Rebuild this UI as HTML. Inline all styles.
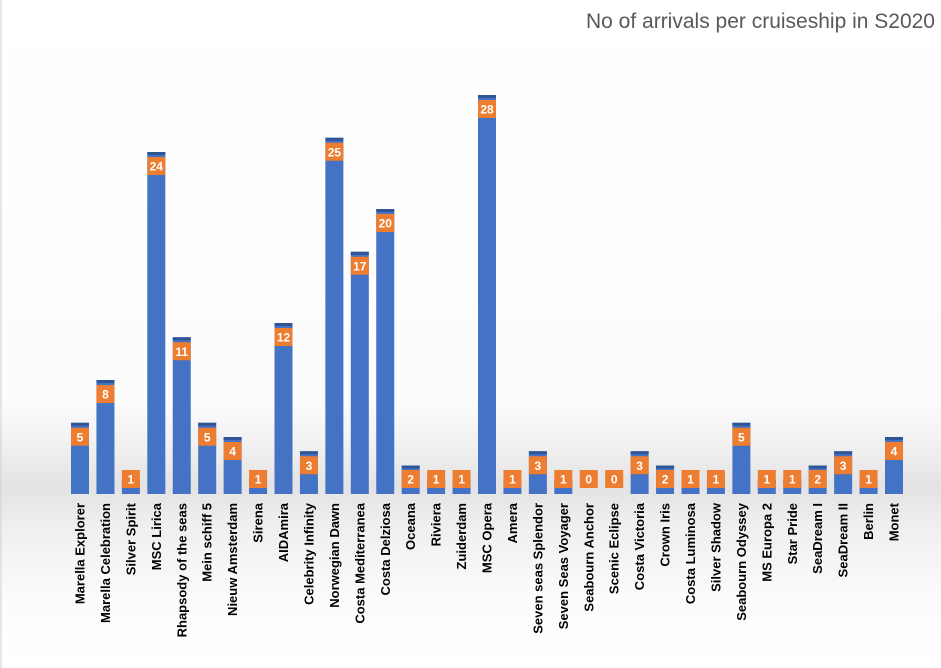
<!DOCTYPE html>
<html><head><meta charset="utf-8"><style>
html,body{margin:0;padding:0;background:#fff;}
svg{display:block;font-family:"Liberation Sans",Arial,sans-serif;}
.b{fill:#4472c4}.t{fill:#2f5597}.o{fill:#ed7d31}
.v{font-size:12px;font-weight:bold;fill:#fff;text-anchor:middle}
.l{font-size:13px;font-weight:bold;fill:#000;text-anchor:end}
</style></head><body>
<svg width="941" height="668" viewBox="0 0 941 668" xmlns="http://www.w3.org/2000/svg">
<defs>
<linearGradient id="bg" x1="0" y1="0" x2="0" y2="1">
<stop offset="0" stop-color="#ffffff"/>
<stop offset="0.6" stop-color="#fcfcfc"/>
<stop offset="0.68" stop-color="#eeeeee"/>
<stop offset="0.73" stop-color="#e3e3e3"/>
<stop offset="0.78" stop-color="#eeeeee"/>
<stop offset="0.9" stop-color="#fcfcfc"/>
<stop offset="1" stop-color="#ffffff"/>
</linearGradient>
</defs>
<rect x="0" y="0" width="941" height="668" fill="url(#bg)"/>
<line x1="1" y1="0" x2="1" y2="668" stroke="#d0d0d0"/>
<text x="935" y="28" text-anchor="end" font-size="21" fill="#595959">No of arrivals per cruiseship in S2020</text>

<g transform="translate(80,0)"><rect class="b" x="-9" y="422.75" width="18" height="71.25"/><rect class="t" x="-9" y="422.75" width="18" height="3"/><rect class="o" x="-9" y="427.75" width="18" height="18"/><text class="v" x="0" y="441.25">5</text><text class="l" transform="translate(4.5,503) rotate(-90)">Marella Explorer</text></g>
<g transform="translate(105.44,0)"><rect class="b" x="-9" y="380" width="18" height="114"/><rect class="t" x="-9" y="380" width="18" height="3"/><rect class="o" x="-9" y="385" width="18" height="18"/><text class="v" x="0" y="398.5">8</text><text class="l" transform="translate(4.5,503) rotate(-90)">Marella Celebration</text></g>
<g transform="translate(130.88,0)"><rect class="b" x="-9" y="479.75" width="18" height="14.25"/><rect class="t" x="-9" y="479.75" width="18" height="3"/><rect class="o" x="-9" y="470" width="18" height="18"/><text class="v" x="0" y="483.5">1</text><text class="l" transform="translate(4.5,503) rotate(-90)">Silver Spirit</text></g>
<g transform="translate(156.31,0)"><rect class="b" x="-9" y="152" width="18" height="342"/><rect class="t" x="-9" y="152" width="18" height="3"/><rect class="o" x="-9" y="157" width="18" height="18"/><text class="v" x="0" y="170.5">24</text><text class="l" transform="translate(4.5,503) rotate(-90)">MSC Lirica</text></g>
<g transform="translate(181.75,0)"><rect class="b" x="-9" y="337.25" width="18" height="156.75"/><rect class="t" x="-9" y="337.25" width="18" height="3"/><rect class="o" x="-9" y="342.25" width="18" height="18"/><text class="v" x="0" y="355.75">11</text><text class="l" transform="translate(4.5,503) rotate(-90)">Rhapsody of the seas</text></g>
<g transform="translate(207.19,0)"><rect class="b" x="-9" y="422.75" width="18" height="71.25"/><rect class="t" x="-9" y="422.75" width="18" height="3"/><rect class="o" x="-9" y="427.75" width="18" height="18"/><text class="v" x="0" y="441.25">5</text><text class="l" transform="translate(4.5,503) rotate(-90)">Mein schiff 5</text></g>
<g transform="translate(232.63,0)"><rect class="b" x="-9" y="437" width="18" height="57"/><rect class="t" x="-9" y="437" width="18" height="3"/><rect class="o" x="-9" y="442" width="18" height="18"/><text class="v" x="0" y="455.5">4</text><text class="l" transform="translate(4.5,503) rotate(-90)">Nieuw Amsterdam</text></g>
<g transform="translate(258.06,0)"><rect class="b" x="-9" y="479.75" width="18" height="14.25"/><rect class="t" x="-9" y="479.75" width="18" height="3"/><rect class="o" x="-9" y="470" width="18" height="18"/><text class="v" x="0" y="483.5">1</text><text class="l" transform="translate(4.5,503) rotate(-90)">Sirena</text></g>
<g transform="translate(283.5,0)"><rect class="b" x="-9" y="323" width="18" height="171"/><rect class="t" x="-9" y="323" width="18" height="3"/><rect class="o" x="-9" y="328" width="18" height="18"/><text class="v" x="0" y="341.5">12</text><text class="l" transform="translate(4.5,503) rotate(-90)">AIDAmira</text></g>
<g transform="translate(308.94,0)"><rect class="b" x="-9" y="451.25" width="18" height="42.75"/><rect class="t" x="-9" y="451.25" width="18" height="3"/><rect class="o" x="-9" y="456.25" width="18" height="18"/><text class="v" x="0" y="469.75">3</text><text class="l" transform="translate(4.5,503) rotate(-90)">Celebrity Infinity</text></g>
<g transform="translate(334.38,0)"><rect class="b" x="-9" y="137.75" width="18" height="356.25"/><rect class="t" x="-9" y="137.75" width="18" height="3"/><rect class="o" x="-9" y="142.75" width="18" height="18"/><text class="v" x="0" y="156.25">25</text><text class="l" transform="translate(4.5,503) rotate(-90)">Norwegian Dawn</text></g>
<g transform="translate(359.81,0)"><rect class="b" x="-9" y="251.75" width="18" height="242.25"/><rect class="t" x="-9" y="251.75" width="18" height="3"/><rect class="o" x="-9" y="256.75" width="18" height="18"/><text class="v" x="0" y="270.25">17</text><text class="l" transform="translate(4.5,503) rotate(-90)">Costa Mediterranea</text></g>
<g transform="translate(385.25,0)"><rect class="b" x="-9" y="209" width="18" height="285"/><rect class="t" x="-9" y="209" width="18" height="3"/><rect class="o" x="-9" y="214" width="18" height="18"/><text class="v" x="0" y="227.5">20</text><text class="l" transform="translate(4.5,503) rotate(-90)">Costa Delziosa</text></g>
<g transform="translate(410.69,0)"><rect class="b" x="-9" y="465.5" width="18" height="28.5"/><rect class="t" x="-9" y="465.5" width="18" height="3"/><rect class="o" x="-9" y="470" width="18" height="18"/><text class="v" x="0" y="483.5">2</text><text class="l" transform="translate(4.5,503) rotate(-90)">Oceana</text></g>
<g transform="translate(436.13,0)"><rect class="b" x="-9" y="479.75" width="18" height="14.25"/><rect class="t" x="-9" y="479.75" width="18" height="3"/><rect class="o" x="-9" y="470" width="18" height="18"/><text class="v" x="0" y="483.5">1</text><text class="l" transform="translate(4.5,503) rotate(-90)">Riviera</text></g>
<g transform="translate(461.56,0)"><rect class="b" x="-9" y="479.75" width="18" height="14.25"/><rect class="t" x="-9" y="479.75" width="18" height="3"/><rect class="o" x="-9" y="470" width="18" height="18"/><text class="v" x="0" y="483.5">1</text><text class="l" transform="translate(4.5,503) rotate(-90)">Zuiderdam</text></g>
<g transform="translate(487,0)"><rect class="b" x="-9" y="95" width="18" height="399"/><rect class="t" x="-9" y="95" width="18" height="3"/><rect class="o" x="-9" y="100" width="18" height="18"/><text class="v" x="0" y="113.5">28</text><text class="l" transform="translate(4.5,503) rotate(-90)">MSC Opera</text></g>
<g transform="translate(512.44,0)"><rect class="b" x="-9" y="479.75" width="18" height="14.25"/><rect class="t" x="-9" y="479.75" width="18" height="3"/><rect class="o" x="-9" y="470" width="18" height="18"/><text class="v" x="0" y="483.5">1</text><text class="l" transform="translate(4.5,503) rotate(-90)">Amera</text></g>
<g transform="translate(537.88,0)"><rect class="b" x="-9" y="451.25" width="18" height="42.75"/><rect class="t" x="-9" y="451.25" width="18" height="3"/><rect class="o" x="-9" y="456.25" width="18" height="18"/><text class="v" x="0" y="469.75">3</text><text class="l" transform="translate(4.5,503) rotate(-90)">Seven seas Splendor</text></g>
<g transform="translate(563.31,0)"><rect class="b" x="-9" y="479.75" width="18" height="14.25"/><rect class="t" x="-9" y="479.75" width="18" height="3"/><rect class="o" x="-9" y="470" width="18" height="18"/><text class="v" x="0" y="483.5">1</text><text class="l" transform="translate(4.5,503) rotate(-90)">Seven Seas Voyager</text></g>
<g transform="translate(588.75,0)"><rect class="o" x="-9" y="470" width="18" height="18"/><text class="v" x="0" y="483.5">0</text><text class="l" transform="translate(4.5,503) rotate(-90)">Seabourn Anchor</text></g>
<g transform="translate(614.19,0)"><rect class="o" x="-9" y="470" width="18" height="18"/><text class="v" x="0" y="483.5">0</text><text class="l" transform="translate(4.5,503) rotate(-90)">Scenic Eclipse</text></g>
<g transform="translate(639.63,0)"><rect class="b" x="-9" y="451.25" width="18" height="42.75"/><rect class="t" x="-9" y="451.25" width="18" height="3"/><rect class="o" x="-9" y="456.25" width="18" height="18"/><text class="v" x="0" y="469.75">3</text><text class="l" transform="translate(4.5,503) rotate(-90)">Costa Victoria</text></g>
<g transform="translate(665.06,0)"><rect class="b" x="-9" y="465.5" width="18" height="28.5"/><rect class="t" x="-9" y="465.5" width="18" height="3"/><rect class="o" x="-9" y="470" width="18" height="18"/><text class="v" x="0" y="483.5">2</text><text class="l" transform="translate(4.5,503) rotate(-90)">Crown Iris</text></g>
<g transform="translate(690.5,0)"><rect class="b" x="-9" y="479.75" width="18" height="14.25"/><rect class="t" x="-9" y="479.75" width="18" height="3"/><rect class="o" x="-9" y="470" width="18" height="18"/><text class="v" x="0" y="483.5">1</text><text class="l" transform="translate(4.5,503) rotate(-90)">Costa Luminosa</text></g>
<g transform="translate(715.94,0)"><rect class="b" x="-9" y="479.75" width="18" height="14.25"/><rect class="t" x="-9" y="479.75" width="18" height="3"/><rect class="o" x="-9" y="470" width="18" height="18"/><text class="v" x="0" y="483.5">1</text><text class="l" transform="translate(4.5,503) rotate(-90)">Silver Shadow</text></g>
<g transform="translate(741.38,0)"><rect class="b" x="-9" y="422.75" width="18" height="71.25"/><rect class="t" x="-9" y="422.75" width="18" height="3"/><rect class="o" x="-9" y="427.75" width="18" height="18"/><text class="v" x="0" y="441.25">5</text><text class="l" transform="translate(4.5,503) rotate(-90)">Seabourn Odyssey</text></g>
<g transform="translate(766.81,0)"><rect class="b" x="-9" y="479.75" width="18" height="14.25"/><rect class="t" x="-9" y="479.75" width="18" height="3"/><rect class="o" x="-9" y="470" width="18" height="18"/><text class="v" x="0" y="483.5">1</text><text class="l" transform="translate(4.5,503) rotate(-90)">MS Europa 2</text></g>
<g transform="translate(792.25,0)"><rect class="b" x="-9" y="479.75" width="18" height="14.25"/><rect class="t" x="-9" y="479.75" width="18" height="3"/><rect class="o" x="-9" y="470" width="18" height="18"/><text class="v" x="0" y="483.5">1</text><text class="l" transform="translate(4.5,503) rotate(-90)">Star Pride</text></g>
<g transform="translate(817.69,0)"><rect class="b" x="-9" y="465.5" width="18" height="28.5"/><rect class="t" x="-9" y="465.5" width="18" height="3"/><rect class="o" x="-9" y="470" width="18" height="18"/><text class="v" x="0" y="483.5">2</text><text class="l" transform="translate(4.5,503) rotate(-90)">SeaDream I</text></g>
<g transform="translate(843.13,0)"><rect class="b" x="-9" y="451.25" width="18" height="42.75"/><rect class="t" x="-9" y="451.25" width="18" height="3"/><rect class="o" x="-9" y="456.25" width="18" height="18"/><text class="v" x="0" y="469.75">3</text><text class="l" transform="translate(4.5,503) rotate(-90)">SeaDream II</text></g>
<g transform="translate(868.56,0)"><rect class="b" x="-9" y="479.75" width="18" height="14.25"/><rect class="t" x="-9" y="479.75" width="18" height="3"/><rect class="o" x="-9" y="470" width="18" height="18"/><text class="v" x="0" y="483.5">1</text><text class="l" transform="translate(4.5,503) rotate(-90)">Berlin</text></g>
<g transform="translate(894,0)"><rect class="b" x="-9" y="437" width="18" height="57"/><rect class="t" x="-9" y="437" width="18" height="3"/><rect class="o" x="-9" y="442" width="18" height="18"/><text class="v" x="0" y="455.5">4</text><text class="l" transform="translate(4.5,503) rotate(-90)">Monet</text></g>
</svg>
</body></html>
